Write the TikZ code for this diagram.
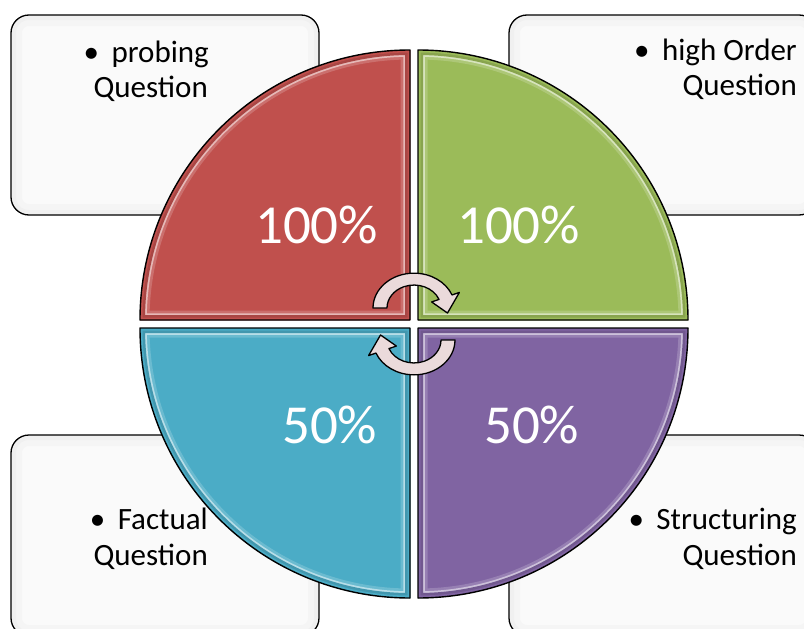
\documentclass[tikz,border=0pt]{standalone}
\usepackage{fontspec}
\setmainfont{Carlito}
\definecolor{cardfill}{HTML}{FAFAFA}
\definecolor{qred}{HTML}{C0504D}
\definecolor{qgreen}{HTML}{9BBB59}
\definecolor{qblue}{HTML}{4BACC6}
\definecolor{qpurple}{HTML}{8064A2}
\definecolor{spinfill}{HTML}{EBDADB}

% rounded card with a faint inner shade: #1,#2 top-left corner, #3,#4 bottom-right corner
\newcommand\qcard[4]{%
  \fill[cardfill, rounded corners=18pt] (#1,#2) rectangle (#3,#4);
  \begin{scope}
    \clip[rounded corners=18pt] (#1,#2) rectangle (#3,#4);
    \draw[black, opacity=0.02, line width=22pt, rounded corners=18pt] (#1,#2) rectangle (#3,#4);
    \draw[black, opacity=0.02, line width=10pt, rounded corners=18pt] (#1,#2) rectangle (#3,#4);
  \end{scope}
  \draw[black, line width=1.3pt, rounded corners=18pt] (#1,#2) rectangle (#3,#4);
}

% bevelled quarter disc: colour, corner x, corner y, start angle, end angle
\newcommand\qsector[5]{%
  \def\qpath{(#2,#3) -- ++(#4:270) arc[start angle=#4, end angle=#5, radius=270] -- cycle}%
  \fill[#1] \qpath;
  \begin{scope}
    \clip \qpath;
    \draw[#1!82!white, line width=19pt, line join=round] \qpath;
    \draw[#1!40!white, line width=13.5pt, line join=round] \qpath;
    \draw[#1!88!black, line width=10pt, line join=round] \qpath;
    \draw[#1, line width=5pt, line join=round] \qpath;
  \end{scope}
  \draw[black, line width=1.4pt, line join=round] \qpath;
}

% curved arrow: centre x, centre y, rotation
\newcommand\spinarrow[3]{%
  \begin{scope}[shift={(#1,#2)}, rotate=#3, yscale=-0.85]
    \draw[spin] (180:41) arc[start angle=180, end angle=22, radius=41]
      -- (22:49) -- (-10:34) -- (22:19) -- (22:27)
      arc[start angle=22, end angle=180, radius=27] -- cycle;
  \end{scope}
}

\begin{document}
\begin{tikzpicture}[x=1pt, y=-1pt,
  bullettext/.style={font=\fontsize{31}{35}\selectfont, anchor=base east, inner sep=0pt, text=black},
  pct/.style={font=\fontsize{55}{60}\selectfont, anchor=base west, inner sep=0pt, text=white},
  spin/.style={draw=black, line width=1.3pt, fill=spinfill, line join=round}]
\useasboundingbox (0,0) rectangle (804,629);
\fill[white] (0,0) rectangle (804,629);

% corner cards
\qcard{11}{15}{319}{215}
\qcard{509}{15}{817}{215}
\qcard{11}{435}{319}{636}
\qcard{509}{435}{817}{636}

\node[bullettext] (pa) at (209,62) {\textbullet\hspace{0.4em}probing};
\node[bullettext] (pb) at (208,97) {Question};
\node[bullettext] (ha) at (797,60) {\textbullet\hspace{0.4em}high Order};
\node[bullettext] (hb) at (797,95) {Question};
\node[bullettext] (fa) at (208,529) {\textbullet\hspace{0.4em}Factual};
\node[bullettext] (fb) at (208,565) {Question};
\node[bullettext] (sa) at (797,529) {\textbullet\hspace{0.4em}Structuring};
\node[bullettext] (sb) at (797,565) {Question};

% four quarters of the disc
\qsector{qred}{410}{320}{180}{270}
\qsector{qgreen}{418}{320}{270}{360}
\qsector{qpurple}{418}{328}{0}{90}
\qsector{qblue}{410}{328}{90}{180}

\node[pct] (r) at (255,243) {100\%};
\node[pct] (g) at (457,243) {100\%};
\node[pct] (b) at (282,443) {50\%};
\node[pct] (p) at (484,443) {50\%};

% cycle arrows in the middle
\spinarrow{414}{308}{0}
\spinarrow{414}{340}{180}
\end{tikzpicture}
\end{document}
